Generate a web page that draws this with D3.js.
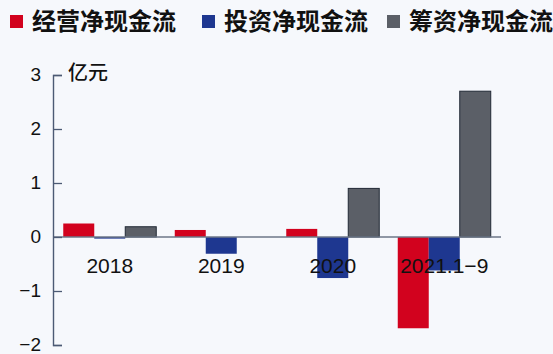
<!DOCTYPE html>
<html>
<head>
<meta charset="utf-8">
<script src="https://cdn.jsdelivr.net/npm/d3@7"></script>
<style>
  body { margin: 0; background: #f6f8fc; }
  svg { display: block; }
</style>
</head>
<body>
<script>
const categories = ['2018', '2019', '2020', '2021.1\u22129'];
const seriesNames = ['经营净现金流', '投资净现金流', '筹资净现金流'];
const operating = [0.25, 0.13, 0.15, -1.69];
const investing = [-0.03, -0.31, -0.76, -0.62];
const financing = [0.19, 0, 0.9, 2.7];
const yTicks = [3, 2, 1, 0, -1, -2];

const colors = ['#d2021e', '#1e3790', '#5b5f67'];
const strokes = ['none', 'none', '#222a36'];

const width = 553, height = 354;
const axisX = 53;

const svg = d3.select('body').append('svg')
  .attr('width', width)
  .attr('height', height);

const yScale = d3.scaleLinear()
  .domain([-2, 3])
  .range([345, 75]);

const x0 = d3.scaleBand()
  .domain(categories)
  .range([axisX, 501])
  .paddingInner(0.166)
  .paddingOuter(0.092);

const x1 = d3.scaleBand()
  .domain(seriesNames)
  .range([0, x0.bandwidth()]);

const rows = categories.map((c, i) => ({
  cat: c,
  vals: [operating[i], investing[i], financing[i]]
}));

// bars
const groups = svg.selectAll('g.grp')
  .data(rows)
  .enter()
  .append('g')
  .attr('class', 'grp')
  .attr('transform', d => `translate(${x0(d.cat)},0)`);

groups.selectAll('rect')
  .data(d => d.vals.map((v, k) => ({ v, k })))
  .enter()
  .filter(d => d.v !== 0)
  .append('rect')
  .attr('x', d => x1(seriesNames[d.k]))
  .attr('y', d => yScale(Math.max(0, d.v)))
  .attr('width', x1.bandwidth())
  .attr('height', d => Math.abs(yScale(d.v) - yScale(0)))
  .attr('fill', d => colors[d.k])
  .attr('stroke', d => strokes[d.k])
  .attr('stroke-width', 1);

// zero line
svg.append('line')
  .attr('x1', axisX)
  .attr('x2', 501)
  .attr('y1', yScale(0))
  .attr('y2', yScale(0))
  .attr('stroke', '#6d7788')
  .attr('stroke-width', 1.3);

// y axis
const yAxis = d3.axisRight(yScale)
  .tickValues(yTicks)
  .tickSize(9)
  .tickFormat('');

const ya = svg.append('g')
  .attr('transform', `translate(${axisX},0)`)
  .call(yAxis);
ya.select('.domain').attr('stroke', '#4c5a74').attr('stroke-width', 1.4);
ya.selectAll('.tick line').attr('stroke', '#4c5a74').attr('stroke-width', 1.3);

svg.selectAll('text.ytick')
  .data(yTicks)
  .enter()
  .append('text')
  .attr('class', 'ytick')
  .attr('x', 41)
  .attr('y', d => yScale(d))
  .attr('dy', '0.34em')
  .attr('text-anchor', 'end')
  .attr('font-family', 'Liberation Sans, Arial, sans-serif')
  .attr('font-size', 19)
  .attr('fill', '#111')
  .text(d => d < 0 ? '\u2212' + Math.abs(d) : d);

svg.append('text')
  .attr('x', 68)
  .attr('y', 73)
  .attr('dy', '0.35em')
  .attr('font-family', 'Noto Sans CJK SC, sans-serif')
  .attr('font-size', 20)
  .attr('font-weight', 500)
  .attr('fill', '#111')
  .text('亿元');

// category labels
svg.selectAll('text.cat')
  .data(categories)
  .enter()
  .append('text')
  .attr('class', 'cat')
  .attr('x', d => x0(d) + x0.bandwidth() / 2)
  .attr('y', 273)
  .attr('text-anchor', 'middle')
  .attr('font-family', 'Liberation Sans, Arial, sans-serif')
  .attr('font-size', 21)
  .attr('fill', '#111')
  .text(d => d);

// legend
const legendX = [10, 202, 387];
const legend = svg.selectAll('g.leg')
  .data(seriesNames)
  .enter()
  .append('g')
  .attr('class', 'leg')
  .attr('transform', (d, i) => `translate(${legendX[i]},0)`);

legend.append('rect')
  .attr('x', 0)
  .attr('y', 15)
  .attr('width', 13)
  .attr('height', 13)
  .attr('fill', (d, i) => colors[i]);

legend.append('text')
  .attr('x', 22)
  .attr('y', 22)
  .attr('dy', '0.35em')
  .attr('font-family', 'Noto Sans CJK SC, sans-serif')
  .attr('font-size', 24)
  .attr('font-weight', 'bold')
  .attr('fill', '#111')
  .text(d => d);
</script>
</body>
</html>
